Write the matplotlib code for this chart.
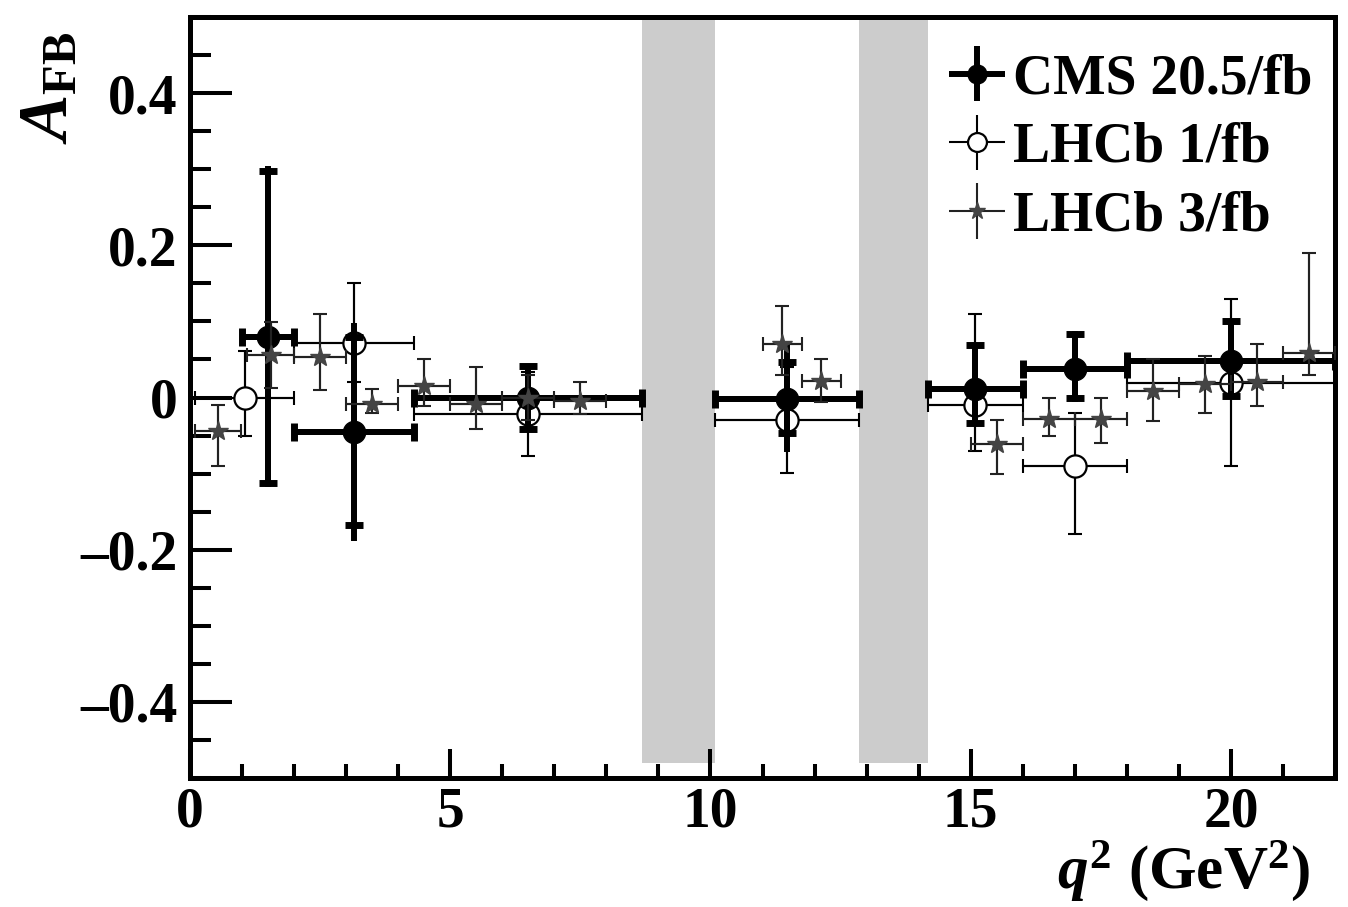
import matplotlib
matplotlib.use('Agg')
import matplotlib.pyplot as plt
from matplotlib.ticker import MultipleLocator, FixedLocator, FixedFormatter

plt.rcParams['font.family'] = ['Liberation Serif', 'DejaVu Serif']
plt.rcParams['font.weight'] = 'bold'
plt.rcParams['mathtext.fontset'] = 'custom'
plt.rcParams['mathtext.rm'] = 'Liberation Serif:bold'
plt.rcParams['mathtext.it'] = 'Liberation Serif:italic:bold'
plt.rcParams['mathtext.bf'] = 'Liberation Serif:bold'

# vetoed q2 regions (J/psi and psi(2S))
veto_lo = [8.68, 12.86]
veto_hi = [10.09, 14.18]
veto_bottom = -0.48

# CMS 20.5/fb
cms_x = [1.5, 3.15, 6.49, 11.47, 15.09, 17.0, 20.0]
cms_lo = [1.0, 2.0, 4.3, 10.09, 14.18, 16.0, 18.0]
cms_hi = [2.0, 4.3, 8.68, 12.86, 16.0, 18.0, 22.0]
cms_afb = [0.079, -0.045, 0.0, -0.002, 0.011, 0.037, 0.048]
cms_stat_up = [0.218, 0.125, 0.041, 0.048, 0.058, 0.046, 0.053]
cms_stat_dn = [0.192, 0.123, 0.041, 0.044, 0.045, 0.038, 0.046]
cms_tot_up = [0.225, 0.143, 0.044, 0.071, 0.058, 0.050, 0.053]
cms_tot_dn = [0.197, 0.143, 0.044, 0.070, 0.045, 0.043, 0.046]

# LHCb 1/fb
l1_x = [1.05, 3.15, 6.49, 11.48, 15.09, 17.0, 20.0]
l1_lo = [0.1, 2.0, 4.3, 10.09, 14.18, 16.0, 18.0]
l1_hi = [2.0, 4.3, 8.68, 12.86, 16.0, 18.0, 22.0]
l1_afb = [0.0, 0.071, -0.022, -0.030, -0.010, -0.090, 0.019]
l1_up = [0.061, 0.079, 0.055, 0.070, 0.120, 0.070, 0.110]
l1_dn = [0.051, 0.051, 0.055, 0.069, 0.060, 0.090, 0.109]

# LHCb 3/fb
l3_x = [0.54, 1.55, 2.5, 3.5, 4.5, 5.5, 6.5, 7.5, 11.375, 12.125,
        15.5, 16.5, 17.5, 18.5, 19.5, 20.5, 21.5]
l3_lo = [0.1, 1.1, 2, 3, 4, 5, 6, 7, 11, 11.75, 15, 16, 17, 18, 19, 20, 21]
l3_hi = [0.98, 2, 3, 4, 5, 6, 7, 8, 11.75, 12.5, 16, 17, 18, 19, 20, 21, 22]
l3_afb = [-0.044, 0.056, 0.053, -0.008, 0.015, -0.009, 0.0, -0.005, 0.070, 0.022,
          -0.061, -0.028, -0.028, 0.008, 0.018, 0.020, 0.059]
l3_up = [0.034, 0.043, 0.057, 0.019, 0.035, 0.049, 0.030, 0.025, 0.050, 0.028,
         0.031, 0.028, 0.028, 0.042, 0.036, 0.050, 0.131]
l3_dn = [0.046, 0.043, 0.043, 0.013, 0.026, 0.032, 0.030, 0.017, 0.040, 0.028,
         0.039, 0.022, 0.032, 0.039, 0.039, 0.031, 0.030]

ytick_vals = [-0.4, -0.2, 0.0, 0.2, 0.4]
ytick_labels = ['\u20130.4', '\u20130.2', '0', '0.2', '0.4']
xtick_vals = [0, 5, 10, 15, 20]
xtick_labels = ['0', '5', '10', '15', '20']


def xerrs(x, lo, hi):
    return [[a - b for a, b in zip(x, lo)], [c - a for a, c in zip(x, hi)]]


fig = plt.figure(figsize=(13.48, 9.07), dpi=100)
ax = fig.add_axes([190 / 1348, 1 - 778 / 907, (1335 - 190) / 1348, (778 - 17) / 907])

for lo, hi in zip(veto_lo, veto_hi):
    ax.fill_between([lo, hi], veto_bottom, 0.5, color='#cccccc', lw=0, zorder=1)

thin = 1.5
thick = 4.3

# LHCb 1/fb: open circles
ax.errorbar(l1_x, l1_afb, xerr=xerrs(l1_x, l1_lo, l1_hi), yerr=[l1_dn, l1_up],
            fmt='none', ecolor='black', elinewidth=thin, capsize=5, capthick=thin, zorder=3)
h1 = ax.errorbar(l1_x, l1_afb, xerr=xerrs(l1_x, l1_lo, l1_hi), yerr=[l1_dn, l1_up],
                 fmt='o', ms=16, mfc='white', mec='black', mew=1.6, color='black',
                 elinewidth=thin, capsize=0, zorder=3)

# CMS: thick bars, total errors and stat errors with caps
hc = ax.errorbar(cms_x, cms_afb, xerr=xerrs(cms_x, cms_lo, cms_hi),
                 yerr=[cms_tot_dn, cms_tot_up], fmt='o', ms=16, color='black',
                 elinewidth=thick, capsize=0, zorder=4)
ax.errorbar(cms_x, cms_afb, xerr=xerrs(cms_x, cms_lo, cms_hi),
            yerr=[cms_stat_dn, cms_stat_up], fmt='none', ecolor='black',
            elinewidth=thick, capsize=6.5, capthick=5, zorder=4)

# LHCb 3/fb: stars
ax.errorbar(l3_x, l3_afb, xerr=xerrs(l3_x, l3_lo, l3_hi), yerr=[l3_dn, l3_up],
            fmt='none', ecolor='#222222', elinewidth=thin, capsize=5, capthick=thin, zorder=5)
h3 = ax.errorbar(l3_x, l3_afb, xerr=xerrs(l3_x, l3_lo, l3_hi), yerr=[l3_dn, l3_up],
                 fmt='*', ms=15, color='#444444', mec='#444444', ecolor='#222222',
                 elinewidth=thin, capsize=0, zorder=5)

ax.set_xlim(0, 22)
ax.set_ylim(-0.5, 0.5)
ax.xaxis.set_major_locator(FixedLocator(xtick_vals))
ax.xaxis.set_major_formatter(FixedFormatter(xtick_labels))
ax.xaxis.set_minor_locator(MultipleLocator(1))
ax.yaxis.set_major_locator(FixedLocator(ytick_vals))
ax.yaxis.set_major_formatter(FixedFormatter(ytick_labels))
ax.yaxis.set_minor_locator(MultipleLocator(0.05))

ax.tick_params(which='both', direction='in', top=False, right=False, width=2.9,
               labelsize=40)
ax.tick_params(axis='x', which='major', length=21, pad=6)
ax.tick_params(axis='x', which='minor', length=10)
ax.tick_params(axis='y', which='major', length=30, pad=9)
ax.tick_params(axis='y', which='minor', length=15)
for lab in ax.get_xticklabels() + ax.get_yticklabels():
    lab.set_fontweight('bold')
for s in ax.spines.values():
    s.set_linewidth(3.6)

fig.text(1310 / 1348, 1 - 871 / 907, r'$\mathit{q}^{\mathbf{2}}$ (GeV$^{\mathbf{2}}$)',
         fontsize=44, fontweight='bold', ha='right', va='center')
fig.text(50 / 1348, 1 - 88 / 907, r'$\mathit{A}_{\mathbf{FB}}$', fontsize=50,
         rotation=90, ha='center', va='center')

leg = ax.legend([hc, h1, h3], ['CMS 20.5/fb', 'LHCb 1/fb', 'LHCb 3/fb'],
                loc='upper right', bbox_to_anchor=(1.012, 1.0), frameon=False,
                prop={'family': 'Liberation Serif', 'weight': 'bold', 'size': 40},
                handlelength=0.8, handletextpad=0.25, labelspacing=0.3,
                borderaxespad=0.25, markerscale=0.85)

fig.savefig('out.png', dpi=100)
